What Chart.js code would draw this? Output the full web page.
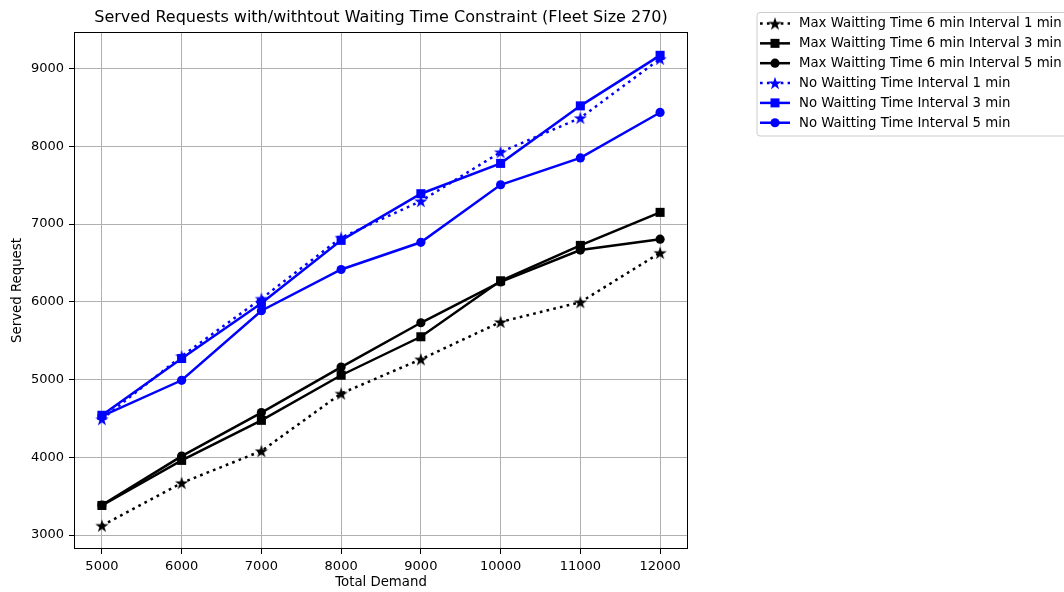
<!DOCTYPE html>
<html>
<head>
<meta charset="utf-8">
<script src="https://cdn.jsdelivr.net/npm/chart.js@4"></script>
<style>
  html, body { margin: 0; padding: 0; background: #fff; }
  #wrap { width: 1064px; height: 592px; position: relative; }
</style>
</head>
<body>
<div id="wrap"><canvas id="c" width="1064" height="592"></canvas></div>
<script>
// Total demand levels (x) and served requests per scenario (y)
const demand = [5000, 6000, 7000, 8000, 9000, 10000, 11000, 12000];
const maxWait1 = [3120, 3670, 4080, 4820, 5260, 5740, 5995, 6630];
const maxWait3 = [3380, 3960, 4475, 5055, 5550, 6270, 6725, 7150];
const maxWait5 = [3385, 4015, 4575, 5160, 5730, 6255, 6665, 6805];
const noWait1 = [4490, 5300, 6040, 6825, 7295, 7925, 8365, 9125];
const noWait3 = [4540, 5270, 5980, 6790, 7390, 7780, 8520, 9170];
const noWait5 = [4530, 4990, 5885, 6415, 6765, 7505, 7850, 8435];

const seriesNames = [
  'Max Waitting Time 6 min Interval 1 min',
  'Max Waitting Time 6 min Interval 3 min',
  'Max Waitting Time 6 min Interval 5 min',
  'No Waitting Time Interval 1 min',
  'No Waitting Time Interval 3 min',
  'No Waitting Time Interval 5 min'
];
const xTicks = [5000, 6000, 7000, 8000, 9000, 10000, 11000, 12000];
const yTicks = [3000, 4000, 5000, 6000, 7000, 8000, 9000];

const FONT = 'DejaVu Sans';
const BLACK = '#000000';
const BLUE = '#0000ff';
const LW = 2.5;

// filled five-point star used as a point marker
function makeStar(color, R) {
  const s = Math.ceil(R * 2 + 2);
  const cv = document.createElement('canvas');
  cv.width = s; cv.height = s;
  const g = cv.getContext('2d');
  const cx = s / 2, cy = s / 2 + R * 0.1;
  const r = R * 0.381966;
  g.beginPath();
  for (let i = 0; i < 10; i++) {
    const rad = i % 2 === 0 ? R : r;
    const a = -Math.PI / 2 + i * Math.PI / 5;
    const px = cx + rad * Math.cos(a), py = cy + rad * Math.sin(a);
    if (i === 0) g.moveTo(px, py); else g.lineTo(px, py);
  }
  g.closePath();
  g.fillStyle = color;
  g.fill();
  return cv;
}
const starK = makeStar(BLACK, 7);
const starB = makeStar(BLUE, 7);

function pts(vals) { return demand.map((d, i) => ({x: d, y: vals[i]})); }

const DOT = [2.7, 4.2];
const styles = [
  {color: BLACK, dash: DOT, marker: starK},
  {color: BLACK, dash: [], marker: 'rect'},
  {color: BLACK, dash: [], marker: 'circle'},
  {color: BLUE, dash: DOT, marker: starB},
  {color: BLUE, dash: [], marker: 'rect'},
  {color: BLUE, dash: [], marker: 'circle'}
];
const values = [maxWait1, maxWait3, maxWait5, noWait1, noWait3, noWait5];

const datasets = values.map((v, i) => {
  const st = styles[i];
  return {
    label: seriesNames[i],
    data: pts(v),
    borderColor: st.color,
    backgroundColor: st.color,
    borderWidth: LW,
    borderDash: st.dash,
    tension: 0,
    pointStyle: st.marker,
    pointRadius: st.marker === 'rect' ? 6.4 : 4.6,
    pointBorderWidth: 0,
    pointBackgroundColor: st.color,
    order: values.length - 1 - i,
    _style: st
  };
});

function drawMarker(ctx, st, x, y) {
  ctx.save();
  ctx.fillStyle = st.color;
  if (st.marker === 'rect') {
    ctx.fillRect(x - 4.5, y - 4.5, 9, 9);
  } else if (st.marker === 'circle') {
    ctx.beginPath(); ctx.arc(x, y, 4.6, 0, Math.PI * 2); ctx.fill();
  } else {
    ctx.drawImage(st.marker, x - st.marker.width / 2, y - st.marker.height / 2);
  }
  ctx.restore();
}

const decor = {
  id: 'decor',
  afterDatasetsDraw(chart) {
    const {ctx, chartArea: a} = chart;
    ctx.save();
    ctx.strokeStyle = '#000';
    ctx.lineWidth = 1;
    ctx.strokeRect(Math.round(a.left) + 0.5, Math.round(a.top) + 0.5,
                   Math.round(a.right - a.left) - 1, Math.round(a.bottom - a.top) - 1);
    ctx.restore();
  },
  afterDraw(chart) {
    const {ctx, chartArea: a} = chart;
    ctx.save();
    // title
    ctx.fillStyle = '#000';
    ctx.font = '16px "' + FONT + '"';
    ctx.textAlign = 'center';
    ctx.textBaseline = 'middle';
    ctx.fillText('Served Requests with/withtout Waiting Time Constraint (Fleet Size 270)',
                 (a.left + a.right) / 2, 17.5);
    // legend
    const bx = 757, by = 12.5, bw = 330, bh = 123.5, rr = 3;
    ctx.beginPath();
    ctx.moveTo(bx + rr, by);
    ctx.lineTo(bx + bw - rr, by);
    ctx.arcTo(bx + bw, by, bx + bw, by + rr, rr);
    ctx.lineTo(bx + bw, by + bh - rr);
    ctx.arcTo(bx + bw, by + bh, bx + bw - rr, by + bh, rr);
    ctx.lineTo(bx + rr, by + bh);
    ctx.arcTo(bx, by + bh, bx, by + bh - rr, rr);
    ctx.lineTo(bx, by + rr);
    ctx.arcTo(bx, by, bx + rr, by, rr);
    ctx.closePath();
    ctx.fillStyle = 'rgba(255,255,255,0.8)';
    ctx.fill();
    ctx.strokeStyle = '#cccccc';
    ctx.lineWidth = 1;
    ctx.stroke();
    ctx.font = '13.3px "' + FONT + '"';
    ctx.textAlign = 'left';
    chart.data.datasets.forEach((ds, i) => {
      const st = ds._style;
      const y = 23.5 + i * 19.85;
      ctx.save();
      ctx.strokeStyle = st.color;
      ctx.lineWidth = LW;
      ctx.setLineDash(st.dash);
      ctx.beginPath();
      ctx.moveTo(760, y); ctx.lineTo(790, y);
      ctx.stroke();
      ctx.restore();
      drawMarker(ctx, st, 775, y);
      ctx.fillStyle = '#000';
      ctx.fillText(ds.label, 799, y + 0.5);
    });
    ctx.restore();
  }
};

new Chart(document.getElementById('c'), {
  type: 'line',
  data: {datasets},
  plugins: [decor],
  options: {
    responsive: false,
    animation: false,
    events: [],
    layout: {padding: {left: 0, top: 32, right: 376, bottom: 0}},
    plugins: {legend: {display: false}, title: {display: false}, tooltip: {enabled: false}},
    scales: {
      x: {
        type: 'linear',
        min: 4650, max: 12350,
        afterBuildTicks: s => { s.ticks = xTicks.map(v => ({value: v})); },
        afterFit: s => { s.height = 43; },
        grid: {color: '#b0b0b0', lineWidth: 1, tickLength: 5, tickColor: '#000', drawTicks: true},
        border: {display: false},
        ticks: {color: '#000', font: {family: FONT, size: 13}, padding: 4.5, maxRotation: 0,
                callback: v => String(v)},
        title: {display: true, text: 'Total Demand', color: '#000',
                font: {family: FONT, size: 13.3}, padding: {top: 0, bottom: 1}}
      },
      y: {
        type: 'linear',
        min: 2820, max: 9470,
        afterBuildTicks: s => { s.ticks = yTicks.map(v => ({value: v})); },
        afterFit: s => { s.width = 74; },
        grid: {color: '#b0b0b0', lineWidth: 1, tickLength: 5, tickColor: '#000', drawTicks: true},
        border: {display: false},
        ticks: {color: '#000', font: {family: FONT, size: 13}, padding: 5,
                callback: v => String(v)},
        title: {display: true, text: 'Served Request', color: '#000',
                font: {family: FONT, size: 13.3}, padding: {top: 10, bottom: 0}}
      }
    }
  }
});
</script>
</body>
</html>
